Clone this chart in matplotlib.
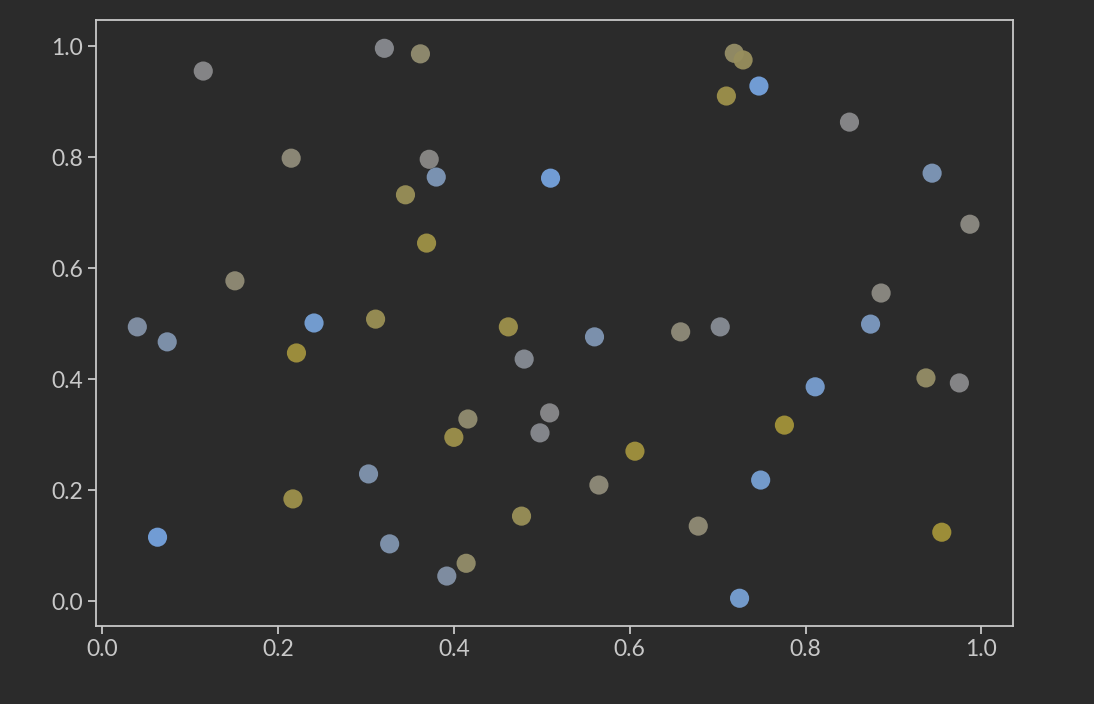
import numpy as np
import matplotlib
matplotlib.use("Agg")
import matplotlib.pyplot as plt
from matplotlib.colors import LinearSegmentedColormap

# point positions
x = [0.040, 0.074, 0.063, 0.115, 0.151, 0.215, 0.221, 0.217, 0.241, 0.303,
     0.311, 0.321, 0.327, 0.345, 0.362, 0.372, 0.369, 0.380, 0.392, 0.400,
     0.416, 0.414, 0.462, 0.477, 0.480, 0.498, 0.509, 0.510, 0.560, 0.565,
     0.606, 0.658, 0.678, 0.703, 0.710, 0.719, 0.729, 0.747, 0.725, 0.749,
     0.776, 0.811, 0.850, 0.874, 0.886, 0.937, 0.944, 0.955, 0.975, 0.987]
y = [0.494, 0.467, 0.115, 0.955, 0.577, 0.798, 0.447, 0.184, 0.501, 0.229,
     0.508, 0.996, 0.103, 0.732, 0.986, 0.796, 0.645, 0.764, 0.045, 0.295,
     0.328, 0.068, 0.494, 0.153, 0.436, 0.303, 0.339, 0.762, 0.476, 0.209,
     0.270, 0.485, 0.135, 0.494, 0.910, 0.987, 0.975, 0.928, 0.005, 0.218,
     0.317, 0.386, 0.863, 0.499, 0.555, 0.402, 0.771, 0.124, 0.393, 0.679]
# colour value: 0 = blue, 0.5 = grey, 1 = yellow
c = [0.35, 0.30, 0.05, 0.50, 0.62, 0.60, 0.92, 0.85, 0.08, 0.30,
     0.80, 0.48, 0.30, 0.78, 0.65, 0.52, 0.88, 0.25, 0.35, 0.85,
     0.65, 0.68, 0.85, 0.78, 0.45, 0.48, 0.50, 0.05, 0.28, 0.60,
     0.92, 0.60, 0.62, 0.45, 0.85, 0.70, 0.75, 0.05, 0.10, 0.10,
     0.95, 0.12, 0.50, 0.20, 0.55, 0.70, 0.25, 0.95, 0.50, 0.55]

bg = "#2b2b2b"
fg = "#c8c8c8"
cmap = LinearSegmentedColormap.from_list("bgy", ["#74a6e6", "#8a8a8c", "#a69430"])

plt.rcParams['font.family'] = ['Lato', 'DejaVu Sans']

fig = plt.figure(figsize=(10.94, 7.04), dpi=100, facecolor=bg)
ax = fig.add_axes([96/1094, 1-626/704, (1013-96)/1094, (626-20)/704])
ax.set_facecolor(bg)

ax.scatter(x, y, c=c, cmap=cmap, vmin=0, vmax=1, s=190, linewidths=0, alpha=0.95)

ax.set_xlim(-0.007, 1.036)
ax.set_ylim(-0.045, 1.047)
ax.set_xticks(np.arange(0, 1.01, 0.2))
ax.set_yticks(np.arange(0, 1.01, 0.2))

for sp in ax.spines.values():
    sp.set_color(fg)
    sp.set_linewidth(1.3)
ax.tick_params(colors=fg, labelcolor=fg, labelsize=16.5, length=6, width=1.3)

fig.savefig("out.png", dpi=100, facecolor=bg)
